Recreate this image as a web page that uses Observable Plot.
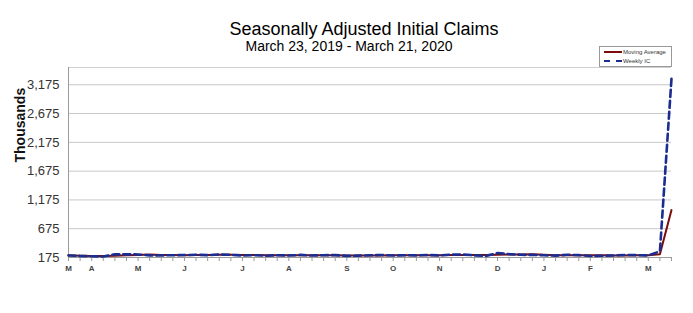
<!DOCTYPE html>
<html>
<head>
<meta charset="utf-8">
<script src="https://cdn.jsdelivr.net/npm/d3@7"></script>
<script src="https://cdn.jsdelivr.net/npm/@observablehq/plot@0.6"></script>
<style>
  html, body { margin: 0; padding: 0; background: #fff; }
  #wrap { position: relative; width: 693px; height: 313px; font-family: "Liberation Sans", Arial, sans-serif; overflow: hidden; }
  #title { position: absolute; left: 0; width: 728px; top: 20px; text-align: center; font-size: 18px; line-height: 18px; color: #000; white-space: nowrap; }
  #subtitle { position: absolute; left: 0; width: 698px; top: 39px; text-align: center; font-size: 14px; line-height: 14px; color: #000; white-space: nowrap; }
  #legend { position: absolute; left: 599px; top: 46px; width: 73px; height: 21px; border: 1px solid #999; background: #fff; box-sizing: border-box; font-size: 6px; color: #333; }
  .lg { position: absolute; left: 4px; height: 8px; display: flex; align-items: center; }
  .sw { width: 18px; height: 0; margin-right: 1px; }
  #chart { position: absolute; left: 0; top: 0; }
</style>
</head>
<body>
<div id="wrap">
  <div id="chart"></div>
  <div id="title">Seasonally Adjusted Initial Claims</div>
  <div id="subtitle">March 23, 2019 - March 21, 2020</div>
  <div id="legend">
    <div class="lg" style="top:1px"><div class="sw" style="border-top:2px solid #7b0c0c"></div>Moving Average</div>
    <div class="lg" style="top:10px"><div class="sw" style="border-top:2px dashed #1b2d91"></div>Weekly IC</div>
  </div>
</div>
<script>
const weeks = ["2019-03-23","2019-03-30","2019-04-06","2019-04-13","2019-04-20","2019-04-27","2019-05-04","2019-05-11","2019-05-18","2019-05-25","2019-06-01","2019-06-08","2019-06-15","2019-06-22","2019-06-29","2019-07-06","2019-07-13","2019-07-20","2019-07-27","2019-08-03","2019-08-10","2019-08-17","2019-08-24","2019-08-31","2019-09-07","2019-09-14","2019-09-21","2019-09-28","2019-10-05","2019-10-12","2019-10-19","2019-10-26","2019-11-02","2019-11-09","2019-11-16","2019-11-23","2019-11-30","2019-12-07","2019-12-14","2019-12-21","2019-12-28","2020-01-04","2020-01-11","2020-01-18","2020-01-25","2020-02-01","2020-02-08","2020-02-15","2020-02-22","2020-02-29","2020-03-07","2020-03-14","2020-03-21"];
const weeklyIC = [211,202,196,192,230,230,228,212,211,215,218,222,216,227,221,209,216,206,215,209,220,209,215,217,204,208,213,219,210,214,212,218,211,225,227,213,203,252,234,222,220,214,207,223,216,202,205,210,219,216,211,282,3283];
const movingAvg = [213,207,203,200,205,212,220,225,220,217,214,217,217,221,222,218,218,213,212,212,213,213,213,215,211,211,211,211,213,214,214,214,214,217,220,219,217,224,228,228,232,223,216,216,215,212,212,208,209,213,214,232,998];
const monthLabels = ["M","A","M","J","J","A","S","O","N","D","J","F","M"];
const monthWeekIndex = [0,2,6,10,15,19,24,28,32,37,41,45,50];
const yTicks = [175,675,1175,1675,2175,2675,3175];

const data = weeks.map((w, i) => ({i, w, ic: weeklyIC[i], ma: movingAvg[i]}));
const labelOf = new Map(monthWeekIndex.map((k, j) => [k, monthLabels[j]]));

const chart = Plot.plot({
  width: 693,
  height: 313,
  marginLeft: 68,
  marginRight: 22,
  marginTop: 67,
  marginBottom: 56,
  style: {fontFamily: "Liberation Sans, Arial, sans-serif", background: "transparent"},
  x: {domain: [0, weeks.length - 1], axis: null},
  y: {domain: [175, 3475], axis: null},
  marks: [
    Plot.gridY(yTicks, {stroke: "#c8c8c8", strokeOpacity: 1, strokeWidth: 1}),
    Plot.ruleY([3475], {stroke: "#d0d0d0"}),
    Plot.ruleX([0], {stroke: "#9a9a9a"}),
    Plot.ruleY([175], {stroke: "#9a9a9a"}),
    Plot.axisY(yTicks, {tickSize: 0, tickPadding: 9, fontSize: 13, fill: "#333", tickFormat: d3.format(","), label: null}),
    Plot.axisX(data.map(d => d.i), {tickSize: 4, stroke: "#9a9a9a", tickFormat: () => "", label: null}),
    Plot.axisX(monthWeekIndex, {tickSize: 0, tickPadding: 8, fontSize: 8, fontWeight: "bold", fill: "#444", tickFormat: d => labelOf.get(d), label: null}),
    Plot.text(["Thousands"], {frameAnchor: "left", dx: -48, dy: 0, rotate: -90, fontSize: 14, fontWeight: "bold", fill: "#111"}),
    Plot.line(data, {x: "i", y: "ma", stroke: "#7b0c0c", strokeWidth: 2}),
    Plot.line(data, {x: "i", y: "ic", stroke: "#1b2d91", strokeWidth: 2.6, strokeDasharray: "7,4"})
  ]
});
document.getElementById("chart").appendChild(chart);
</script>
</body>
</html>
